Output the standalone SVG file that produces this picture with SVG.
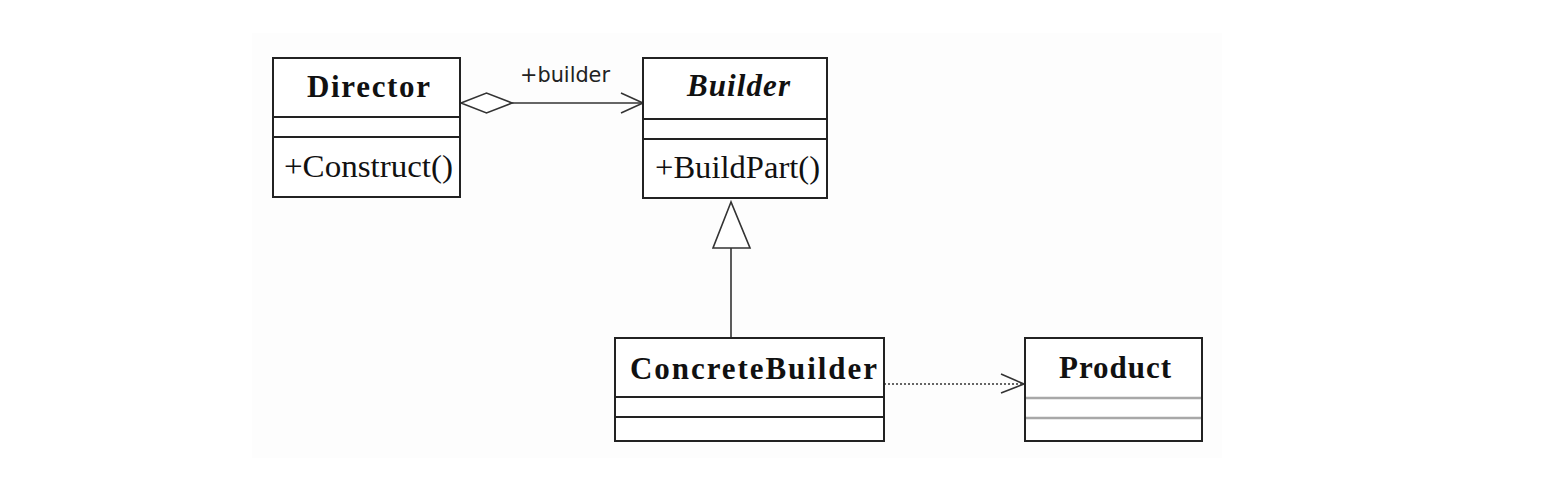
<svg xmlns="http://www.w3.org/2000/svg" width="1548" height="486" viewBox="0 0 1548 486">
<style>
.box{fill:#ffffff;stroke:#222;stroke-width:2}
.sep{stroke:#222;stroke-width:2}
.gsep{stroke:#a8a8a8;stroke-width:2.5}
.title{font-family:"Liberation Serif","Times New Roman",serif;font-weight:bold;font-size:31px;fill:#111}
.op{font-family:"Liberation Serif","Times New Roman",serif;font-size:31px;fill:#111}
.lbl{font-family:"DejaVu Sans","Liberation Sans",sans-serif;font-size:20.5px;fill:#222}
.conn{fill:none;stroke:#333;stroke-width:1.6}
</style>
<rect x="0" y="0" width="1548" height="486" fill="#ffffff"/>
<rect x="252" y="33" width="970" height="425" fill="#fdfdfd"/>
<g id="connectors">
  <g id="aggregation">
    <line class="conn" x1="512" y1="103" x2="643" y2="103"/>
    <polygon points="461,103 486.5,93 512,103 486.5,113" fill="#fff" stroke="#333" stroke-width="1.6"/>
    <polyline class="conn" points="621,93 643,103 621,113"/>
    <text class="lbl" x="520" y="82" textLength="90" lengthAdjust="spacingAndGlyphs">+builder</text>
  </g>
  <g id="generalization">
    <line class="conn" x1="731" y1="248" x2="731" y2="338"/>
    <polygon points="731,202 713,248 750,248" fill="#fff" stroke="#333" stroke-width="1.6"/>
  </g>
  <g id="dependency">
    <line class="conn" x1="884" y1="384" x2="1024" y2="384" stroke-dasharray="2,2"/>
    <polyline class="conn" points="1001,374 1024,384 1001,393"/>
  </g>
</g>
<g id="Director">
  <rect class="box" x="273" y="58" width="187" height="139"/>
  <line class="sep" x1="273" y1="117" x2="460" y2="117"/>
  <line class="sep" x1="273" y1="137" x2="460" y2="137"/>
  <text class="title" x="307" y="97" textLength="123">Director</text>
  <text class="op" x="284" y="177" textLength="169" lengthAdjust="spacingAndGlyphs">+Construct()</text>
</g>
<g id="Builder">
  <rect class="box" x="643" y="58" width="184" height="140"/>
  <line class="sep" x1="643" y1="119" x2="827" y2="119"/>
  <line class="sep" x1="643" y1="139" x2="827" y2="139"/>
  <text class="title" x="687" y="96" textLength="103" font-style="italic">Builder</text>
  <text class="op" x="655" y="178" textLength="165" lengthAdjust="spacingAndGlyphs">+BuildPart()</text>
</g>
<g id="ConcreteBuilder">
  <rect class="box" x="615" y="338" width="269" height="103"/>
  <line class="sep" x1="615" y1="397" x2="884" y2="397"/>
  <line class="sep" x1="615" y1="417" x2="884" y2="417"/>
  <text class="title" x="630" y="379" textLength="247">ConcreteBuilder</text>
</g>
<g id="Product">
  <rect class="box" x="1025" y="338" width="177" height="103"/>
  <line class="gsep" x1="1026" y1="398" x2="1201" y2="398"/>
  <line class="gsep" x1="1026" y1="418" x2="1201" y2="418"/>
  <text class="title" x="1059" y="378" textLength="112">Product</text>
</g>
</svg>
